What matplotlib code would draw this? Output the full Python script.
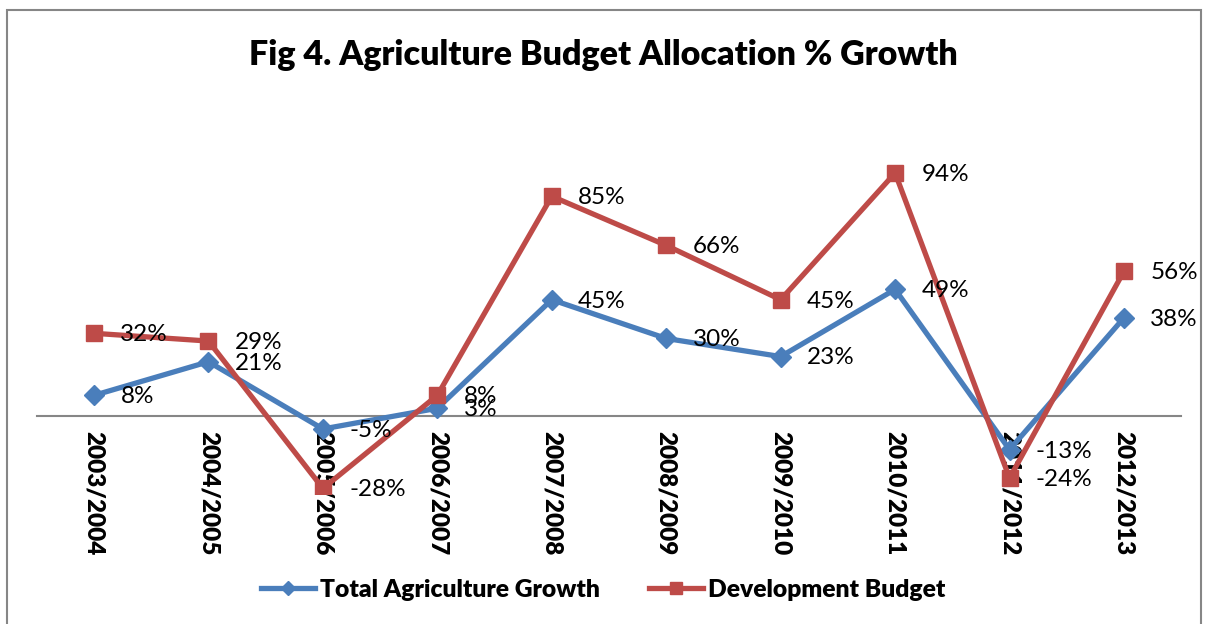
import matplotlib
matplotlib.use("Agg")
import matplotlib.pyplot as plt
from matplotlib.patches import Rectangle

categories = ["2003/2004", "2004/2005", "2005/2006", "2006/2007", "2007/2008",
              "2008/2009", "2009/2010", "2010/2011", "2011/2012", "2012/2013"]
total_agri = [8, 21, -5, 3, 45, 30, 23, 49, -13, 38]
dev_budget = [32, 29, -28, 8, 85, 66, 45, 94, -24, 56]

title = "Fig 4. Agriculture Budget Allocation % Growth"
series_names = ["Total Agriculture Growth", "Development Budget"]

plt.rcParams['font.family'] = ['Lato', 'DejaVu Sans']

W, H = 1207, 624
fig = plt.figure(figsize=(W / 100, H / 100), dpi=100)

# axes placement in pixels
left_px, right_px = 36.8, 1181.2
top_px, bot_px = 157.5, 493.6
ax = fig.add_axes([left_px / W, 1 - bot_px / H, (right_px - left_px) / W, (bot_px - top_px) / H])
ax.set_xlim(-0.5, len(categories) - 0.5)
ax.set_ylim(-30, 100)

x = list(range(len(categories)))
blue = "#4A7EBB"
red = "#BE4B48"
l1, = ax.plot(x, total_agri, color=blue, lw=3.8, marker="D", ms=10, mec=blue, mfc=blue,
              label=series_names[0], zorder=3)
l2, = ax.plot(x, dev_budget, color=red, lw=3.8, marker="s", ms=12, mec=red, mfc=red,
              label=series_names[1], zorder=4)

for xi, v in zip(x, total_agri):
    ax.annotate(f"{v}%", (xi, v), xytext=(19, -1), textcoords="offset points",
                ha="left", va="center", fontsize=17.5, color="black", zorder=6)
for xi, v in zip(x, dev_budget):
    ax.annotate(f"{v}%", (xi, v), xytext=(19, -1), textcoords="offset points",
                ha="left", va="center", fontsize=17.5, color="black", zorder=6)

for s in ["top", "right", "left"]:
    ax.spines[s].set_visible(False)
ax.spines["bottom"].set_position(("data", 0))
ax.spines["bottom"].set_color("#868686")
ax.spines["bottom"].set_linewidth(1.5)
ax.spines["bottom"].set_zorder(1)
ax.set_yticks([])
ax.set_xticks(x)
ax.set_xticklabels(categories, rotation=-90, fontsize=17.5, fontweight="heavy", va="top")
ax.tick_params(axis="x", length=0, pad=11)
ax.patch.set_visible(False)

fig.text(0.5, 1 - 55 / H, title, ha="center", va="center", fontsize=24.5, fontweight="heavy")

leg = fig.legend(handles=[l1, l2], loc="center", bbox_to_anchor=(0.5, 1 - 590 / H),
                 ncol=2, frameon=False, prop={"weight": "heavy", "size": 17.7},
                 handlelength=2.2, columnspacing=2.0, handletextpad=0.2, markerscale=0.75)

fig.patches.append(Rectangle((7 / W, -0.05), (1201 - 7) / W, 1.05 - 10 / H,
                             transform=fig.transFigure, fill=False,
                             edgecolor="#868686", lw=1.5))

fig.savefig("out.png", dpi=100, facecolor="white")
